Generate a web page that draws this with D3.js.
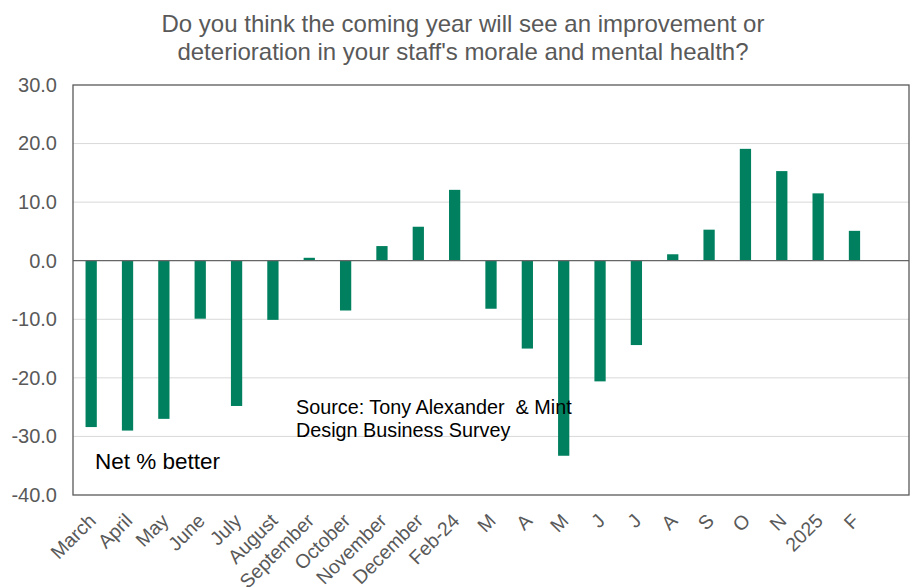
<!DOCTYPE html>
<html>
<head>
<meta charset="utf-8">
<script src="https://cdn.jsdelivr.net/npm/d3@7/dist/d3.min.js"></script>
<style>
  html, body { margin: 0; padding: 0; background: #ffffff; }
  svg { display: block; font-family: "Liberation Sans", Arial, sans-serif; }
</style>
</head>
<body>
<svg id="chart" width="913" height="587"></svg>
<script>
// Survey months (the final slot is left empty, as in the survey's chart layout)
const categories = ["March", "April", "May", "June", "July", "August", "September",
  "October", "November", "December", "Feb-24", "M", "A", "M", "J", "J", "A", "S",
  "O", "N", "2025", "F", ""];
// Net % of businesses expecting better staff morale and mental health
const netBetter = [-28.4, -29.0, -27.0, -9.9, -24.8, -10.1, 0.5, -8.5, 2.5, 5.8, 12.1,
  -8.2, -15.0, -33.3, -20.6, -14.4, 1.1, 5.3, 19.1, 15.3, 11.5, 5.1, null];
const yTicks = [30, 20, 10, 0, -10, -20, -30, -40];
const titleLines = [
  "Do you think the coming year will see an improvement or",
  "deterioration in your staff's morale and mental health?"
];

const svg = d3.select("#chart");
const plot = { left: 73, top: 85, right: 909, bottom: 495 };

// Band scale keyed by index, since some month initials repeat
const x = d3.scaleBand()
  .domain(d3.range(categories.length))
  .range([plot.left, plot.right])
  .paddingInner(0.69)
  .paddingOuter(0.345);

const y = d3.scaleLinear().domain([-40, 30]).range([plot.bottom, plot.top]);

// Title
svg.append("g").selectAll("text")
  .data(titleLines)
  .join("text")
  .attr("x", 463)
  .attr("y", (d, i) => 32 + i * 28)
  .attr("text-anchor", "middle")
  .attr("fill", "#595959")
  .attr("font-size", 24)
  .text(d => d);

// Horizontal gridlines
svg.append("g").selectAll("line")
  .data(yTicks.filter(t => t !== 0 && t !== 30 && t !== -40))
  .join("line")
  .attr("x1", plot.left).attr("x2", plot.right)
  .attr("y1", d => y(d)).attr("y2", d => y(d))
  .attr("stroke", "#d9d9d9").attr("stroke-width", 1);

// Y axis labels
const yAxis = d3.axisLeft(y)
  .tickValues(yTicks)
  .tickFormat(d3.format(".1f"))
  .tickSize(0)
  .tickPadding(16);
const yg = svg.append("g")
  .attr("transform", `translate(${plot.left},0)`)
  .call(yAxis);
yg.select(".domain").remove();
yg.selectAll("text")
  .attr("fill", "#595959")
  .attr("font-size", 20)
  .attr("font-family", "Liberation Sans, Arial, sans-serif")
  .text(d => d3.format(".1f")(d).replace("−", "-"));

// Bars
svg.append("g").selectAll("rect")
  .data(netBetter.map((v, i) => ({ i, v })).filter(d => d.v !== null))
  .join("rect")
  .attr("x", d => x(d.i))
  .attr("width", x.bandwidth())
  .attr("y", d => y(Math.max(0, d.v)))
  .attr("height", d => Math.abs(y(d.v) - y(0)))
  .attr("fill", "#00805f");

// Zero line
svg.append("line")
  .attr("x1", plot.left).attr("x2", plot.right)
  .attr("y1", y(0)).attr("y2", y(0))
  .attr("stroke", "#666666").attr("stroke-width", 1.3);

// Plot frame
svg.append("rect")
  .attr("x", plot.left).attr("y", plot.top)
  .attr("width", plot.right - plot.left)
  .attr("height", plot.bottom - plot.top)
  .attr("fill", "none")
  .attr("stroke", "#595959").attr("stroke-width", 1.3);

// X axis labels, rotated
svg.append("g").selectAll("text")
  .data(categories.map((c, i) => ({ c, i })))
  .join("text")
  .attr("transform", d => `translate(${x(d.i) + x.bandwidth() / 2 + 6},${plot.bottom + 27}) rotate(-45)`)
  .attr("text-anchor", "end")
  .attr("fill", "#595959")
  .attr("font-size", 19.5)
  .text(d => d.c);

// Annotations
svg.append("text")
  .attr("x", 95).attr("y", 469)
  .attr("font-size", 22.5).attr("fill", "#000000")
  .text("Net % better");

svg.append("g").selectAll("text")
  .data(["Source: Tony Alexander & Mint", "Design Business Survey"])
  .join("text")
  .attr("x", 296)
  .attr("y", (d, i) => 414 + i * 23)
  .attr("font-size", 19.8)
  .attr("fill", "#000000")
  .attr("xml:space", "preserve")
  .text(d => d.replace("Alexander & ", "Alexander  & "));
</script>
</body>
</html>
